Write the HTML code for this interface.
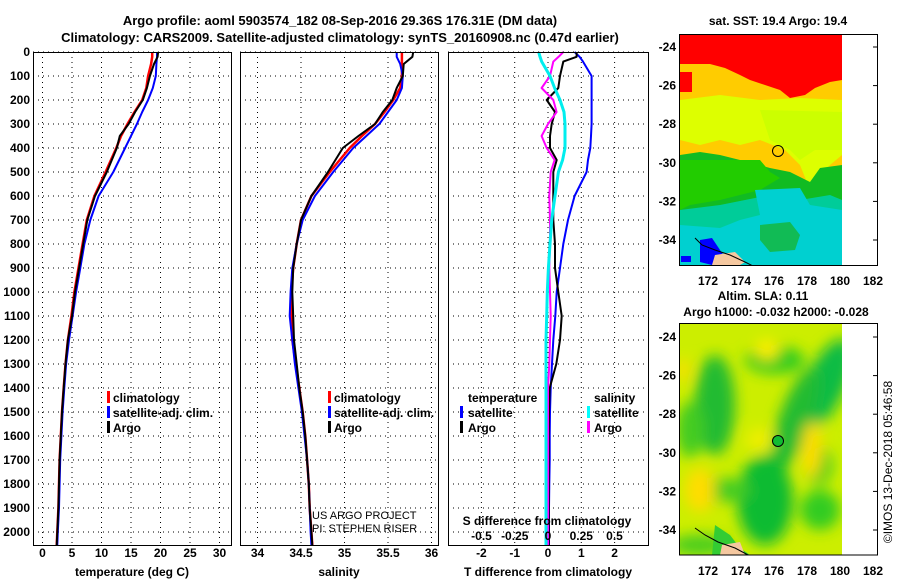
<!DOCTYPE html>
<html><head><meta charset="utf-8"><style>
html,body{margin:0;padding:0;background:#fff;}
svg{display:block;font-family:"Liberation Sans",sans-serif;font-weight:bold;}
text{fill:#000;}
</style></head><body>
<svg id="chart" width="900" height="580" viewBox="0 0 900 580">
<defs>
<filter id="blur" x="-20%" y="-20%" width="140%" height="140%"><feGaussianBlur stdDeviation="7"/></filter>
<clipPath id="map2clip"><rect x="680" y="324" width="162" height="231"/></clipPath>
<clipPath id="map1clip"><rect x="680" y="35" width="162" height="230"/></clipPath>
</defs>
<text x="340" y="25" font-size="13" text-anchor="middle">Argo profile: aoml 5903574_182 08-Sep-2016 29.36S 176.31E (DM data)</text>
<text x="340" y="42" font-size="13" text-anchor="middle">Climatology: CARS2009. Satellite-adjusted climatology: synTS_20160908.nc (0.47d earlier)</text>
<g id="grids"></g>
<g id="series"></g>
<g id="frames"></g>
<g id="labels" font-size="12"></g>

<g font-size="12">
<rect x="107" y="391" width="3" height="12" fill="#f00"/><text x="113" y="402">climatology</text>
<rect x="107" y="406" width="3" height="12" fill="#00f"/><text x="113" y="417">satellite-adj. clim.</text>
<rect x="107" y="421" width="3" height="12" fill="#000"/><text x="113" y="432">Argo</text>
</g>
<g font-size="12">
<rect x="328" y="391" width="3" height="12" fill="#f00"/><text x="334" y="402">climatology</text>
<rect x="328" y="406" width="3" height="12" fill="#00f"/><text x="334" y="417">satellite-adj. clim.</text>
<rect x="328" y="421" width="3" height="12" fill="#000"/><text x="334" y="432">Argo</text>
</g>
<text x="312" y="519" font-size="11" font-weight="normal">US ARGO PROJECT</text>
<text x="312" y="532" font-size="11" font-weight="normal">PI: STEPHEN RISER</text>
<g font-size="12">
<text x="468" y="402">temperature</text>
<rect x="460" y="406" width="3" height="12" fill="#00f"/><text x="468" y="417">satellite</text>
<rect x="460" y="421" width="3" height="12" fill="#000"/><text x="468" y="432">Argo</text>
<text x="594" y="402">salinity</text>
<rect x="587" y="406" width="3" height="12" fill="#0ff"/><text x="594" y="417">satellite</text>
<rect x="587" y="421" width="3" height="12" fill="#f0f"/><text x="594" y="432">Argo</text>
</g>
<text x="547" y="525" font-size="12" text-anchor="middle">S difference from climatology</text>

<g>
<text x="778" y="25" font-size="12" text-anchor="middle">sat. SST: 19.4 Argo: 19.4</text>
<g clip-path="url(#map1clip)">
<rect x="680" y="35" width="162" height="230" fill="#ffcc00"/>
<polygon points="680,35 842,35 842,80 830,82 815,88 805,95 790,98 780,90 765,85 750,80 740,75 725,68 710,64 680,64" fill="#ff0000"/>
<rect x="680" y="72" width="12" height="20" fill="#ff0000"/>
<polygon points="680,100 720,95 760,100 800,98 842,100 842,155 830,165 820,175 810,190 800,165 785,150 760,140 740,145 720,140 700,145 680,140" fill="#ddff00"/>
<polygon points="760,110 842,112 842,150 815,150 800,160 790,150 770,140" fill="#ccff00"/>
<polygon points="680,155 700,152 720,155 740,160 770,168 790,172 810,182 820,168 842,165 842,265 680,265" fill="#11bb22"/>
<polygon points="680,160 760,160 770,172 780,178 760,190 720,200 690,205 680,210" fill="#22cc00"/>
<polygon points="680,210 720,205 745,200 770,195 800,200 830,195 842,200 842,265 680,265" fill="#00cc99"/>
<polygon points="755,190 800,188 810,205 842,210 842,265 680,265 680,225 720,228 740,220 760,215" fill="#00d0d0"/>
<polygon points="760,225 790,222 800,235 795,250 770,252 760,240" fill="#11bb55"/>
<rect x="681" y="256" width="10" height="6" fill="#0000ff"/>
<polygon points="700,240 712,238 720,250 728,262 712,265 700,262" fill="#0000ff"/>
<polygon points="715,255 735,252 745,262 740,265 712,265" fill="#f5c8a0"/>
<polyline points="695,238 702,245 715,250 730,255 745,262 755,267" fill="none" stroke="#000" stroke-width="1"/>
</g>
<rect x="842" y="35" width="35" height="230" fill="#fff"/>
<circle cx="778" cy="151" r="5.5" fill="none" stroke="#000" stroke-width="1"/>
<rect x="679.5" y="34.5" width="198" height="231" fill="none" stroke="#000"/>
<g id="map1axes" font-size="12"></g>
</g>

<g>
<text x="763" y="300" font-size="12" text-anchor="middle">Altim. SLA: 0.11</text>
<text x="776" y="316" font-size="12" text-anchor="middle">Argo h1000: -0.032 h2000: -0.028</text>
<g clip-path="url(#map2clip)">
<rect x="680" y="324" width="162" height="231" fill="#ccee00"/>
<g filter="url(#blur)">
<ellipse cx="715" cy="405" rx="20" ry="50" fill="#22bb33"/>
<ellipse cx="690" cy="430" rx="14" ry="28" fill="#44cc22"/>
<ellipse cx="825" cy="385" rx="20" ry="50" fill="#11bb44" transform="rotate(25 825 385)"/>
<ellipse cx="795" cy="420" rx="16" ry="55" fill="#22bb33" transform="rotate(20 795 420)"/>
<ellipse cx="775" cy="360" rx="30" ry="14" fill="#33cc22"/>
<ellipse cx="765" cy="500" rx="28" ry="45" fill="#11bb33"/>
<ellipse cx="720" cy="490" rx="30" ry="12" fill="#44cc22"/>
<ellipse cx="820" cy="510" rx="20" ry="20" fill="#33cc22"/>
<ellipse cx="700" cy="545" rx="30" ry="10" fill="#44cc22"/>
<ellipse cx="818" cy="465" rx="14" ry="20" fill="#33cc22"/>
<ellipse cx="812" cy="450" rx="10" ry="28" fill="#ffdd00"/>
<ellipse cx="700" cy="490" rx="15" ry="22" fill="#ffdd00"/>
<ellipse cx="767" cy="350" rx="12" ry="10" fill="#ffee00"/>
<ellipse cx="683" cy="370" rx="6" ry="12" fill="#ffdd00"/>
<ellipse cx="760" cy="440" rx="14" ry="12" fill="#eeee00"/>
</g>
<polygon points="715,525 730,535 740,548 750,555 712,555" fill="#33cc33"/>
<polygon points="722,545 740,542 745,555 720,555" fill="#f5c8a0"/>
<polyline points="695,528 705,535 718,542 735,548 748,555" fill="none" stroke="#000" stroke-width="1"/>
</g>
<rect x="842" y="324" width="35" height="231" fill="#fff"/>
<circle cx="778" cy="441" r="5.5" fill="#11bb33" stroke="#000" stroke-width="1"/>
<rect x="679.5" y="323.5" width="198" height="231.5" fill="none" stroke="#000"/>
<g id="map2axes" font-size="12"></g>
<text transform="translate(892,462) rotate(-90)" font-size="12" font-weight="normal" text-anchor="middle">©IMOS 13-Dec-2018 05:46:58</text>
</g>
</svg>
<script>
var depthProfile = [0,20,50,100,150,200,250,300,350,400,500,600,700,800,900,1000,1100,1200,1300,1400,1500,1600,1700,1800,1900,2000,2055];
var tempClim = [18.6,18.6,18.4,17.9,17.6,16.9,15.6,14.4,13.3,12.5,10.7,8.8,7.5,6.8,6.1,5.4,4.9,4.3,3.9,3.6,3.3,3.1,2.9,2.8,2.7,2.5,2.4];
var tempSat = [19.4,19.4,19.3,19.2,18.7,17.9,16.9,16.0,15.0,14.0,12.0,9.5,8.1,7.1,6.4,5.7,5.1,4.5,4.0,3.7,3.4,3.2,3.0,2.9,2.8,2.6,2.5];
var tempArgo = [19.6,19.5,18.9,18.2,17.7,17.0,15.7,14.6,13.1,12.6,10.9,8.9,7.6,6.9,6.2,5.5,5.0,4.3,3.9,3.6,3.3,3.1,2.9,2.8,2.7,2.5,2.4];
var salClim = [35.66,35.66,35.66,35.66,35.64,35.56,35.46,35.35,35.2,35.06,34.83,34.62,34.5,34.45,34.41,34.39,34.39,34.40,34.44,34.48,34.52,34.55,34.57,34.59,34.6,34.62,34.63];
var salSat = [35.6,35.6,35.64,35.67,35.66,35.6,35.5,35.4,35.25,35.1,34.87,34.66,34.52,34.45,34.40,34.38,34.37,34.40,34.43,34.47,34.51,34.54,34.57,34.59,34.6,34.61,34.62];
var salArgo = [35.79,35.78,35.68,35.67,35.6,35.55,35.44,35.35,35.16,34.98,34.81,34.62,34.5,34.45,34.41,34.40,34.41,34.42,34.45,34.48,34.52,34.55,34.57,34.59,34.6,34.62,34.63];
var depthDiff = [0,20,40,100,150,200,250,300,350,400,450,500,600,700,800,900,1000,1100,1200,1300,1400,1500,1600,1700,1800,1900,2000,2055];
var tDiffSat = [0.8,0.95,1.05,1.31,1.31,1.31,1.31,1.31,1.29,1.27,1.2,1.16,0.8,0.6,0.46,0.36,0.26,0.22,0.16,0.12,0.08,0.06,0.05,0.05,0.04,0.03,0.03,0.03];
var tDiffArgo = [0.86,0.86,0.46,0.36,0.31,-0.04,0.21,0.11,0.06,0.06,0.26,0.16,0.16,0.16,0.21,0.21,0.31,0.41,0.36,0.25,0.05,0.03,0.02,0.02,0.02,0.02,0.02,0.02];
var sDiffArgo = [0.115,0.08,0.04,0.015,-0.048,0.04,0.065,0,-0.048,-0.01,0.05,0.02,0.01,0.015,0.015,0.01,0.015,0.02,0.015,0.01,0,0,0,0,0,0,0,0];
var sDiffSat = [-0.07,-0.06,-0.047,0.015,0.05,0.09,0.12,0.128,0.128,0.128,0.11,0.078,0.053,0.028,0.015,0.003,-0.005,-0.01,-0.015,-0.015,-0.015,-0.015,-0.015,-0.015,-0.015,-0.015,-0.015,-0.015];
var depthTicks = [0,100,200,300,400,500,600,700,800,900,1000,1100,1200,1300,1400,1500,1600,1700,1800,1900,2000];
var tempTicks = [0,5,10,15,20,25,30];
var salTicks = [34,34.5,35,35.5,36];
var tDiffTicks = [-2,-1,0,1,2];
var sDiffTicks = [-0.5,-0.25,0,0.25,0.5];
var latTicks = [-24,-26,-28,-30,-32,-34];
var lonTicks = [172,174,176,178,180,182];

var NS='http://www.w3.org/2000/svg';
function yD(d){return 52+d*0.24;}
function xT(t){return 42.5+t*5.9;}
function xS(s){return 344.5+(s-35)*87;}
function xDT(t){return 548+t*33.3;}
function xDS(s){return 548+s*133;}
function mk(tag,attrs,parent){var e=document.createElementNS(NS,tag);for(var k in attrs)e.setAttribute(k,attrs[k]);parent.appendChild(e);return e;}
var grids=document.getElementById('grids'),series=document.getElementById('series'),frames=document.getElementById('frames'),labels=document.getElementById('labels');
var panels=[{x0:33,x1:231,name:'temperature'},{x0:240,x1:438,name:'salinity'},{x0:448,x1:648,name:'difference'}];
var plotTop=52,plotBot=545;
panels.forEach(function(p){
  depthTicks.forEach(function(d){
    var l=mk('line',{x1:p.x0,x2:p.x1,y1:yD(d),y2:yD(d),stroke:'#000','stroke-width':1,'stroke-dasharray':'1,4'},grids);
    
    
  });
  var f=mk('rect',{x:p.x0+0.5,y:plotTop+0.5,width:p.x1-p.x0,height:plotBot-plotTop,fill:'none',stroke:'#000','stroke-width':1},frames);
  
  
});
function vgrid(vals,fx){vals.forEach(function(v){
  var l=mk('line',{x1:fx(v),x2:fx(v),y1:plotTop,y2:plotBot,stroke:'#000','stroke-width':1,'stroke-dasharray':'1,4'},grids);
  
  
});}
vgrid(tempTicks,xT);vgrid(salTicks,xS);vgrid(tDiffTicks,xDT);
function txt(s,x,y,anchor,size){var t=mk('text',{x:x,y:y,'text-anchor':anchor||'middle','font-size':size||12},labels);t.textContent=s;return t;}
depthTicks.forEach(function(d){
  var t=txt(String(d),30,yD(d)+4,'end');
  
  
});
tempTicks.forEach(function(v){var t=txt(String(v),xT(v),557);
  
  });
salTicks.forEach(function(v){var t=txt(String(v),xS(v),557);
  
  });
tDiffTicks.forEach(function(v){var t=txt(String(v),xDT(v),557);
  
  });
sDiffTicks.forEach(function(v){var t=txt(String(v),xDS(v),540);
  
  });
var a1=txt('temperature (deg C)',132,576);


var a2=txt('salinity',339,576);


var a3=txt('T difference from climatology',548,576);



function line(depths,vals,fx,color,w,name){
  var pts=depths.map(function(d,i){return fx(vals[i]).toFixed(1)+','+yD(d).toFixed(1);}).join(' ');
  var pl=mk('polyline',{points:pts,fill:'none',stroke:color,'stroke-width':w,'stroke-linejoin':'round'},series);
  
  
}
line(depthProfile,tempClim,xT,'#f00',2.5,'temperature-climatology-line');
line(depthProfile,tempSat,xT,'#00f',2,'temperature-satellite-line');
line(depthProfile,tempArgo,xT,'#000',2,'temperature-argo-line');
line(depthProfile,salClim,xS,'#f00',2.5,'salinity-climatology-line');
line(depthProfile,salSat,xS,'#00f',2,'salinity-satellite-line');
line(depthProfile,salArgo,xS,'#000',2,'salinity-argo-line');
line(depthDiff,tDiffSat,xDT,'#00f',2,'t-diff-satellite-line');
line(depthDiff,tDiffArgo,xDT,'#000',2,'t-diff-argo-line');
line(depthDiff,sDiffArgo,xDS,'#f0f',2,'s-diff-argo-line');
line(depthDiff,sDiffSat,xDS,'#0ee',3,'s-diff-satellite-line');

function mapAxes(gid,latY0,lonBaseY){
  var g=document.getElementById(gid);
  latTicks.forEach(function(v){
    var y=latY0+(-24-v)*19.3;
    var t=mk('text',{x:676,y:y+4,'text-anchor':'end','font-size':12},g);t.textContent=String(v);
    
    
    mk('line',{x1:873,x2:877,y1:y,y2:y,stroke:'#000'},g);
  });
  lonTicks.forEach(function(v){
    var x=708+(v-172)*16.5;
    var t=mk('text',{x:x,y:lonBaseY,'text-anchor':'middle','font-size':12},g);t.textContent=String(v);
    
    
  });
}
mapAxes('map1axes',47,285);
mapAxes('map2axes',337,575);
</script>
</body></html>
